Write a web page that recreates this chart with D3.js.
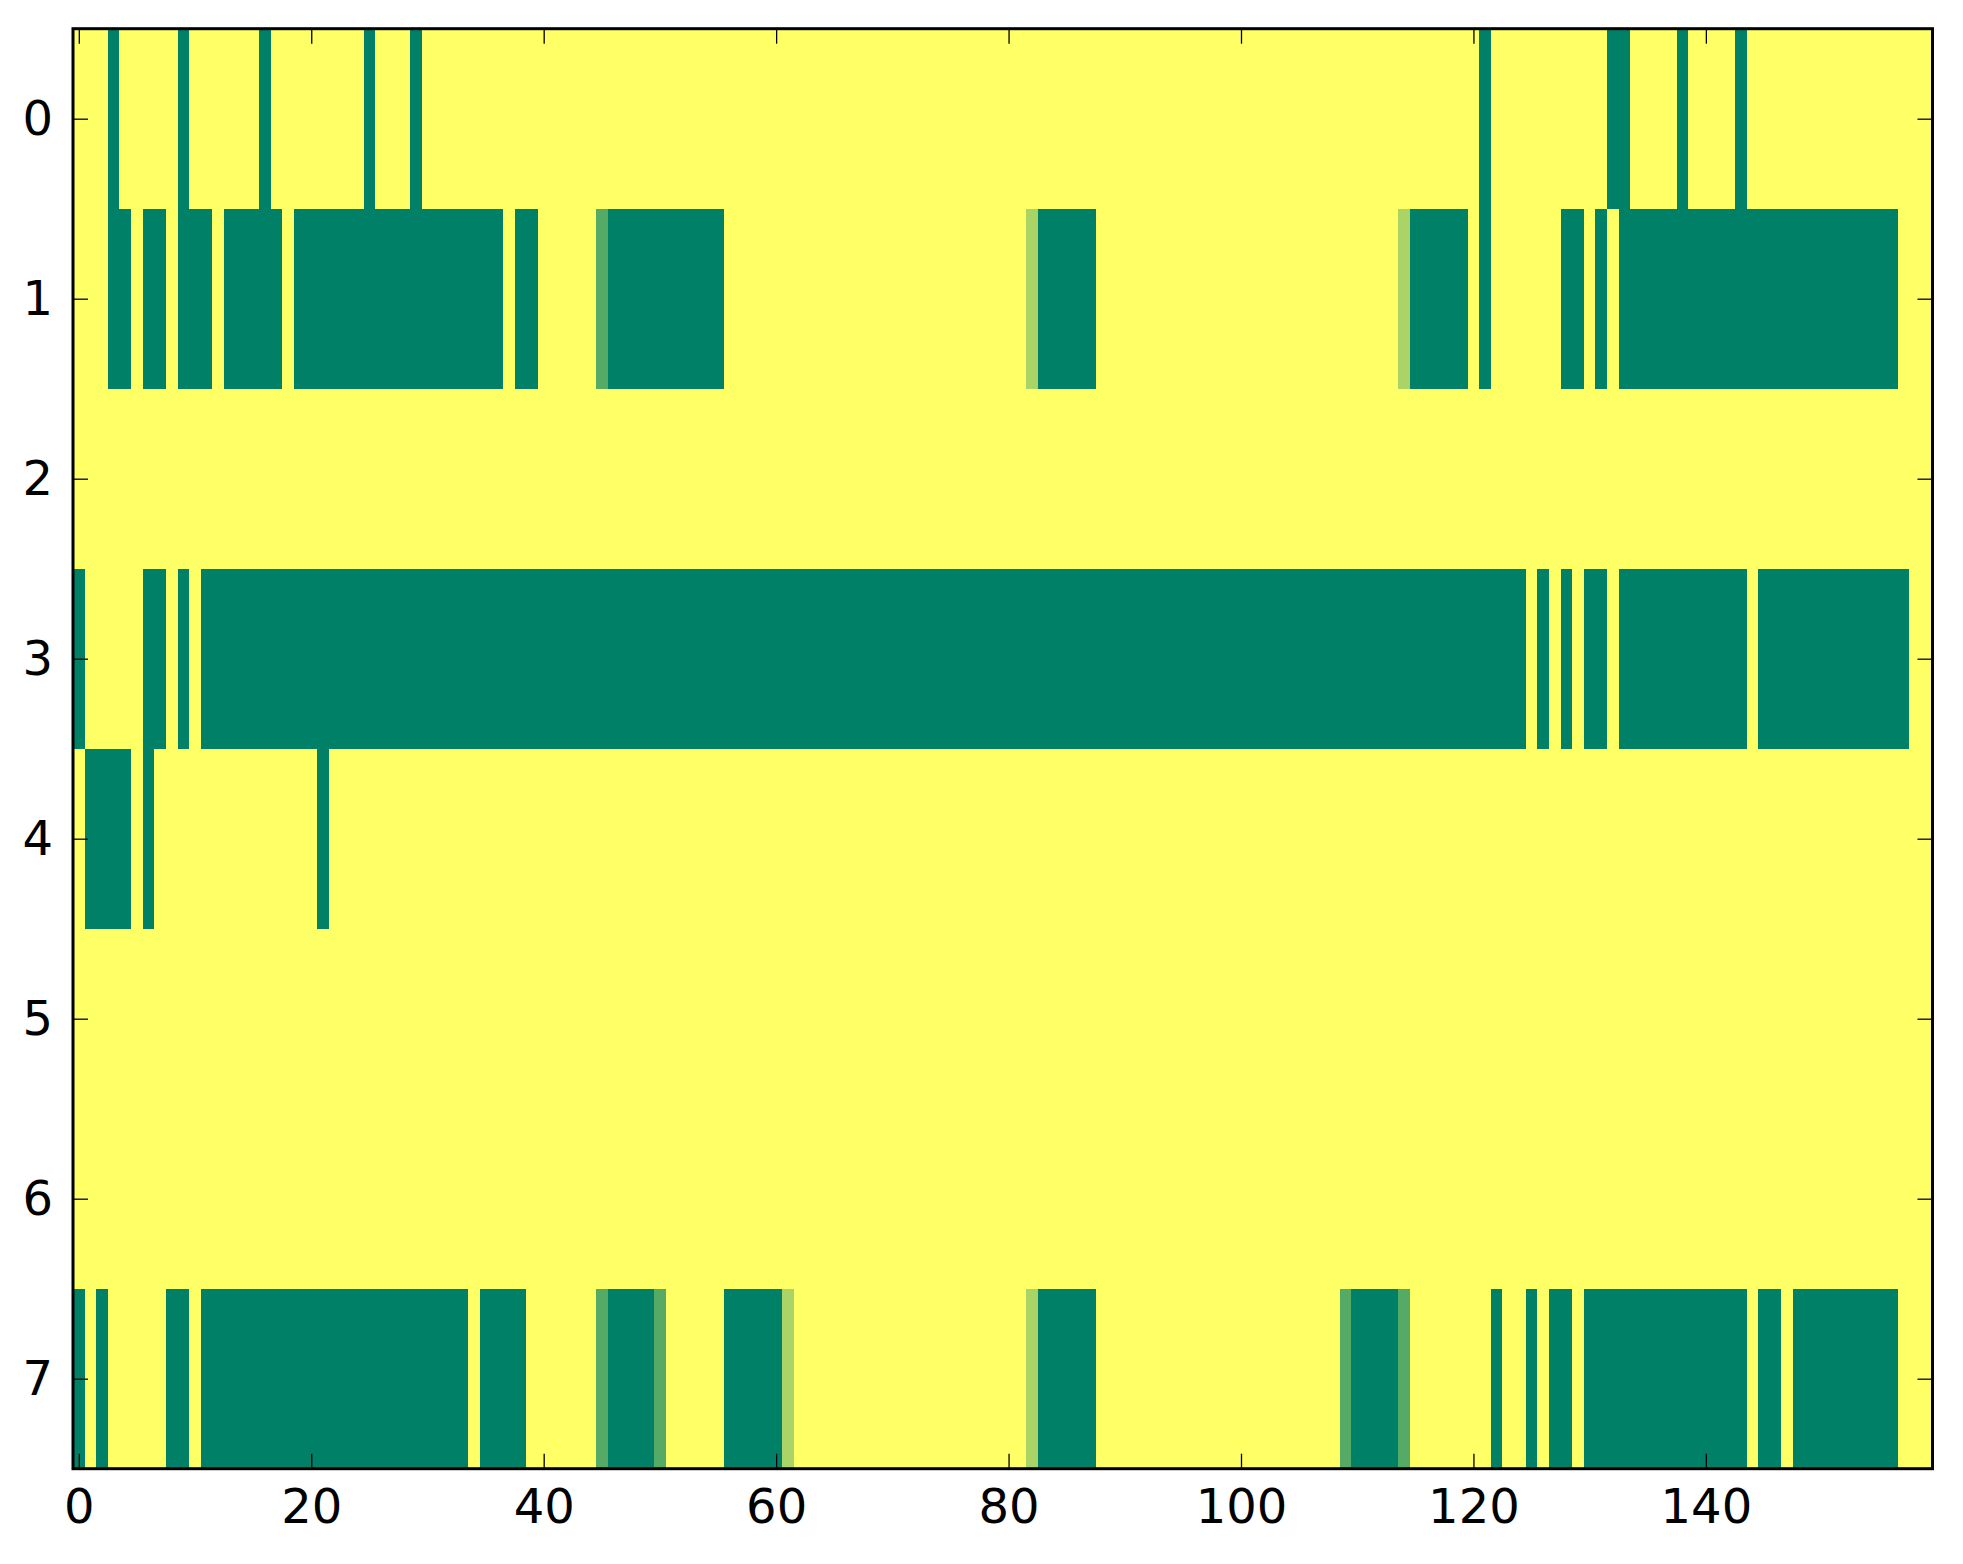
<!DOCTYPE html>
<html>
<head>
<meta charset="utf-8">
<script src="https://cdn.jsdelivr.net/npm/d3@7"></script>
<style>
  body { margin: 0; background: #fff; }
  text { font-family: "DejaVu Sans", sans-serif; }
</style>
</head>
<body>
<script>
// cell values, 10 columns per chunk
// digit / 3 -> value (0 = green, 3 = yellow, 1 and 2 are the in-between shades)
var row0 = ["3330333330","3333330333","3333303330","3333333333","3333333333","3333333333","3333333333","3333333333",
            "3333333333","3333333333","3333333333","3333333333","3033333333","3300333303","3330333333","3333333333"];
var row1 = ["3330030030","0030000030","0000000000","0000000300","3333310000","0000003333","3333333333","3333333333",
            "3320000033","3333333333","3333333333","3333200000","3033333300","3030000000","0000000000","0000000333"];
var row2 = ["3333333333","3333333333","3333333333","3333333333","3333333333","3333333333","3333333333","3333333333",
            "3333333333","3333333333","3333333333","3333333333","3333333333","3333333333","3333333333","3333333333"];
var row3 = ["0333330030","3000000000","0000000000","0000000000","0000000000","0000000000","0000000000","0000000000",
            "0000000000","0000000000","0000000000","0000000000","0000030303","0030000000","0000300000","0000000033"];
var row4 = ["3000030333","3333333333","3033333333","3333333333","3333333333","3333333333","3333333333","3333333333",
            "3333333333","3333333333","3333333333","3333333333","3333333333","3333333333","3333333333","3333333333"];
var row5 = row2.slice();
var row6 = row2.slice();
var row7 = ["0303333300","3000000000","0000000000","0000300003","3333310000","1333330000","0233333333","3333333333",
            "3320000033","3333333333","3333333331","0000133333","3303303003","0000000000","0000300300","0000000333"];

var xTicks = [0, 20, 40, 60, 80, 100, 120, 140];
var yTicks = [0, 1, 2, 3, 4, 5, 6, 7];

var grid = [row0, row1, row2, row3, row4, row5, row6, row7]
  .map(r => r.join('').split('').map(c => +c / 3));
var nCols = grid[0].length;

var W = 1963, H = 1564;
var plotLeft = 73, plotRight = 1932.5, plotTop = 28.7, plotBottom = 1468.7;

var svg = d3.select('body')
            .append('svg')
            .attr('width', W)
            .attr('height', H);

svg.append('rect').attr('width', W).attr('height', H).attr('fill', '#fff');

var x = d3.scaleLinear().domain([-0.5, nCols - 0.5]).range([plotLeft, plotRight]);
var y = d3.scaleLinear().domain([-0.5, grid.length - 0.5]).range([plotTop, plotBottom]);

// matplotlib "summer"
var color = d3.scaleLinear()
  .domain([0, 1])
  .range(['rgb(0,128,102)', 'rgb(255,255,102)'])
  .interpolate(d3.interpolateRgb);

var cells = [];
grid.forEach((row, r) => row.forEach((v, c) => cells.push({ r: r, c: c, v: v })));

svg.append('g')
  .attr('shape-rendering', 'crispEdges')
  .selectAll('rect')
  .data(cells)
  .enter()
  .append('rect')
  .attr('x', d => x(d.c - 0.5))
  .attr('y', d => y(d.r - 0.5))
  .attr('width', d => x(d.c + 0.5) - x(d.c - 0.5) + 0.5)
  .attr('height', d => y(d.r + 0.5) - y(d.r - 0.5) + 0.5)
  .attr('fill', d => color(d.v));

// ticks point inwards, on all four sides
var tickLen = 15;
function style(g) {
  g.select('.domain').remove();
  g.selectAll('.tick line').attr('stroke', '#000').attr('stroke-width', 1.3);
  g.selectAll('.tick text')
    .attr('font-size', '48px')
    .attr('fill', '#000');
}

svg.append('g')
  .attr('transform', 'translate(0,' + plotBottom + ')')
  .call(d3.axisBottom(x).tickValues(xTicks).tickSizeInner(-tickLen).tickSizeOuter(0).tickPadding(20))
  .call(style);

svg.append('g')
  .attr('transform', 'translate(0,' + plotTop + ')')
  .call(d3.axisTop(x).tickValues(xTicks).tickSizeInner(-tickLen).tickSizeOuter(0).tickFormat(''))
  .call(style);

svg.append('g')
  .attr('transform', 'translate(' + plotLeft + ',0)')
  .call(d3.axisLeft(y).tickValues(yTicks).tickSizeInner(-tickLen).tickSizeOuter(0).tickPadding(20))
  .call(style);

svg.append('g')
  .attr('transform', 'translate(' + plotRight + ',0)')
  .call(d3.axisRight(y).tickValues(yTicks).tickSizeInner(-tickLen).tickSizeOuter(0).tickFormat(''))
  .call(style);

// frame
svg.append('rect')
  .attr('x', plotLeft)
  .attr('y', plotTop)
  .attr('width', plotRight - plotLeft)
  .attr('height', plotBottom - plotTop)
  .attr('fill', 'none')
  .attr('stroke', '#000')
  .attr('stroke-width', 3);
</script>
</body>
</html>
